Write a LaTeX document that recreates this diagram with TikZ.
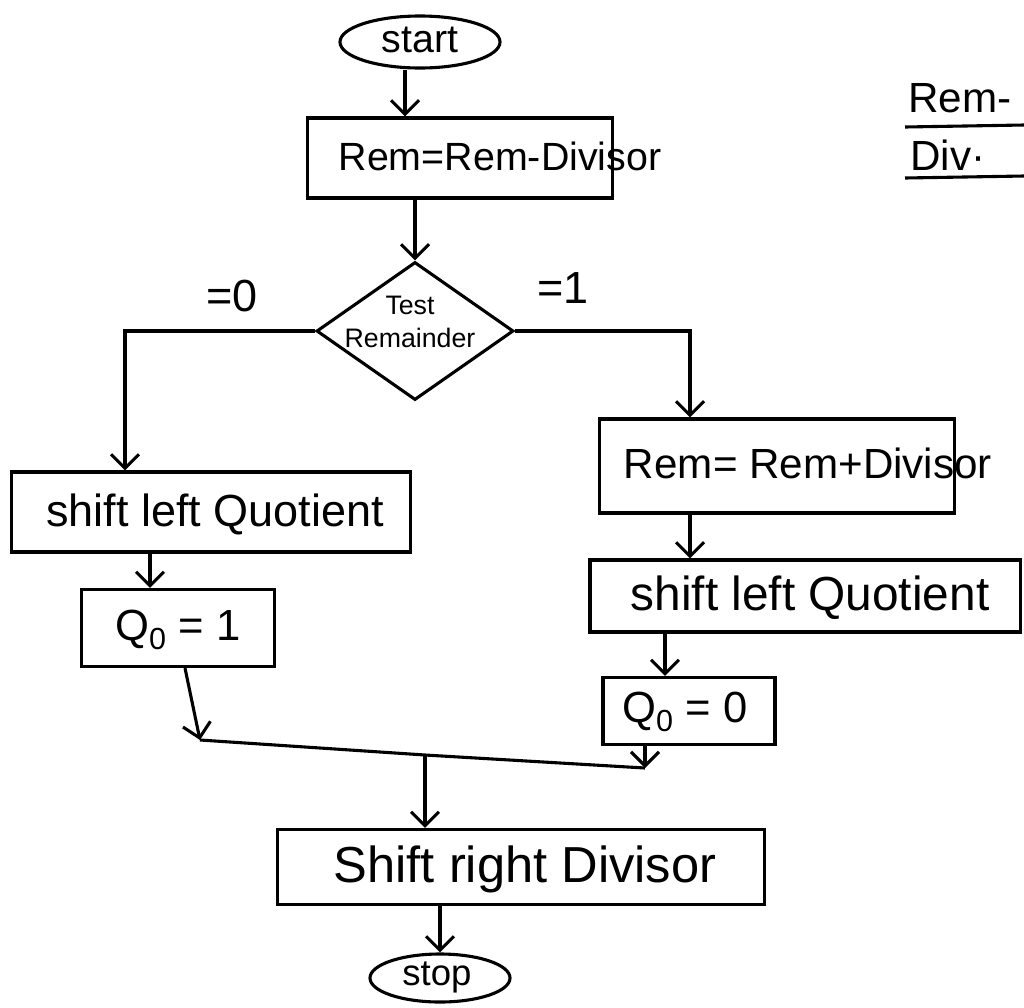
\documentclass[tikz,border=0pt]{standalone}
\usepackage{fontspec}
\setmainfont{Liberation Sans}
\usetikzlibrary{shapes.geometric,arrows.meta,calc}
\tikzset{
  ln/.style={line width=2.2pt},
  arr/.style={ln,-{Straight Barb[length=3.5mm,width=7mm,line width=2.2pt]}},
  box/.style={draw,ln,rectangle,inner sep=0pt},
  term/.style={draw,ln,ellipse,inner sep=0pt},
  txt/.style={inner sep=0pt,font=\fontsize{#1}{#1}\selectfont},
}
\begin{document}
\begin{tikzpicture}[x=0.025cm,y=-0.025cm]
\useasboundingbox[fill=white] (0,0) rectangle (1024,1007);
% terminals
\node[term,minimum width=4cm,minimum height=1.3cm] (start) at (420,42) {};
\node[txt=28] (startt) at (420,40) {start};
\node[term,minimum width=3.5cm,minimum height=1.2cm] (stop) at (440,978) {};
\node[txt=26] (stopt) at (437,977) {stop};
% boxes
\node[box,minimum width=7.625cm,minimum height=2cm] (b1) at (460,158) {};
\node[txt=28] (b1t) at (500,156) {Rem=Rem-Divisor};
\node[diamond,draw,ln,minimum width=4.925cm,minimum height=3.45cm,inner sep=0pt] (d) at (415,331) {};
\node[align=center,inner sep=0pt,font=\fontsize{19}{24}\selectfont] (dt) at (410,322) {Test\\Remainder};
\node[box,minimum width=9.95cm,minimum height=2cm] (L1) at (211,512) {};
\node[txt=32] (L1t) at (215,514) {shift left Quotient};
\node[box,minimum width=4.825cm,minimum height=1.925cm] (L2) at (178,628) {};
\node[txt=31] (L2t) at (178,630) {Q\textsubscript{0} = 1};
\node[box,minimum width=8.875cm,minimum height=2.35cm] (R1) at (777,466) {};
\node[txt=30] (R1t) at (808,463) {Rem= Rem+Divisor};
\node[box,minimum width=10.75cm,minimum height=1.8cm] (R2) at (805,596) {};
\node[txt=34] (R2t) at (810,598) {shift left Quotient};
\node[box,minimum width=4.3cm,minimum height=1.675cm] (R3) at (689,711) {};
\node[txt=31] (R3t) at (685,712) {Q\textsubscript{0} = 0};
\node[box,minimum width=12.175cm,minimum height=1.875cm] (F) at (521,867) {};
\node[txt=36] (Ft) at (525,869) {Shift right Divisor};
% labels
\node[txt=32] (l0) at (232,296) {=0};
\node[txt=32] (l1) at (563,288) {=1};
\node[txt=30,anchor=west] (tr1) at (908,98) {Rem-};
\node[txt=30,anchor=west] (tr2) at (910,155) {Div·};
\coordinate (u1a) at (905,127); \coordinate (u1b) at (1024,125);
\coordinate (u2a) at (905,178); \coordinate (u2b) at (1024,176);
\draw[ln] (u1a) -- (u1b);
\draw[ln] (u2a) -- (u2b);
% connectors
\draw[arr] ($(start.south)+(-15,0)$) -- ($(b1.north)+(-55,0)$);
\draw[arr] ($(b1.south)+(-45,0)$) -- (d.north);
\draw[arr] (d.west) -| ($(L1.north)+(-86,0)$);
\draw[arr] (d.east) -| ($(R1.north)+(-87,0)$);
\draw[arr] ($(R1.south)+(-87,0)$) -- ($(R2.north)+(-115,0)$);
\draw[arr] ($(R2.south)+(-140,0)$) -- ($(R3.north)+(-24,0)$);
\draw[arr] ($(L1.south)+(-61,0)$) -- ($(L2.north)+(-28,0)$);
\coordinate (jl) at (200,740);
\coordinate (jr) at (645,768);
\coordinate (m) at (425,755);
\draw[arr] ($(L2.south)+(7,0)$) -- (jl);
\draw[ln] (jl) -- (m);
\draw[arr] ($(R3.south)+(-44,0)$) -- (jr);
\draw[ln] (jr) -- (m);
\draw[arr] (m) -- (m |- F.north);
\draw[arr] ($(F.south)+(-81,0)$) -- (stop.north);
\end{tikzpicture}
\end{document}
